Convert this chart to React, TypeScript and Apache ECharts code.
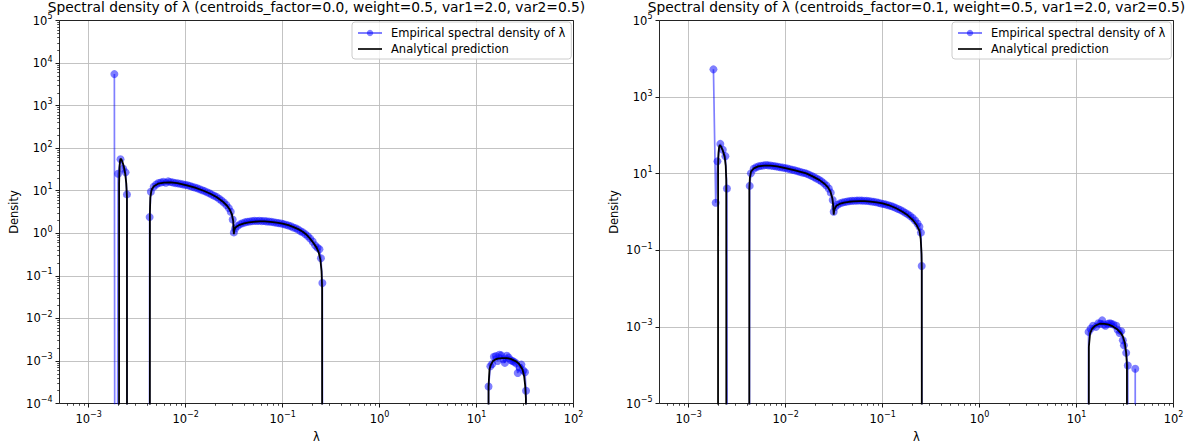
import React, { useEffect, useRef } from "react";
import * as echarts from "echarts";

type Pt = [number, number];

const FONT = "DejaVu Sans";
const EMP = "Empirical spectral density of λ";
const ANA = "Analytical prediction";
const TITLE_LEFT = "Spectral density of λ (centroids_factor=0.0, weight=0.5, var1=2.0, var2=0.5)";
const TITLE_RIGHT = "Spectral density of λ (centroids_factor=0.1, weight=0.5, var1=2.0, var2=0.5)";

const X_RANGE: Pt = [5e-4, 1e2];
const Y_RANGE_LEFT: Pt = [1e-4, 1e5];
const Y_RANGE_RIGHT: Pt = [1e-5, 1e5];
const X_MAJOR = [1e-3, 1e-2, 1e-1, 1e0, 1e1, 1e2];
const Y_MAJOR_LEFT = [1e-4, 1e-3, 1e-2, 1e-1, 1e0, 1e1, 1e2, 1e3, 1e4, 1e5];
const Y_MAJOR_RIGHT = [1e-5, 1e-3, 1e-1, 1e1, 1e3, 1e5];

// Empirical histogram density (0 = empty bin, clipped like matplotlib's log scale)
const leftEmpirical: Pt[] = [
  [1.84e-3, 5500], [1.9e-3, 0],
  [2.01e-3, 25], [2.13e-3, 55], [2.27e-3, 33], [2.4e-3, 27], [2.48e-3, 8.2], [2.55e-3, 0],
  [4.18e-3, 0], [4.25e-3, 2.4], [4.38e-3, 9.5], [4.68e-3, 12.4], [4.96e-3, 14.0], [5.25e-3, 15.2],
  [5.56e-3, 15.6], [5.89e-3, 16.2], [6.24e-3, 15.4], [6.61e-3, 16.6], [7.0e-3, 16.0], [7.41e-3, 15.6],
  [7.85e-3, 15.1], [8.32e-3, 14.9], [8.81e-3, 14.5], [9.33e-3, 14.1], [9.89e-3, 13.7], [1.047e-2, 13.4],
  [1.109e-2, 12.9], [1.175e-2, 12.3], [1.245e-2, 11.9], [1.318e-2, 11.4], [1.396e-2, 10.8], [1.479e-2, 10.3],
  [1.567e-2, 9.8], [1.66e-2, 9.2], [1.758e-2, 8.7], [1.862e-2, 8.1], [1.972e-2, 7.6], [2.089e-2, 7.1],
  [2.213e-2, 6.5], [2.344e-2, 5.9], [2.483e-2, 5.3], [2.63e-2, 4.6], [2.786e-2, 3.9], [2.917e-2, 3.2],
  [3.055e-2, 2.1], [3.141e-2, 1.05],
  [0.03236, 1.3], [0.03428, 1.48], [0.03631, 1.62], [0.03846, 1.72], [0.04074, 1.8], [0.04315, 1.86],
  [0.04571, 1.89], [0.04842, 1.93], [0.05129, 1.96], [0.05433, 1.94], [0.05754, 1.97], [0.06095, 1.93],
  [0.06457, 1.95], [0.06839, 1.9], [0.07244, 1.88], [0.07674, 1.85], [0.08128, 1.81], [0.0861, 1.77],
  [0.0912, 1.73], [0.09661, 1.69], [0.1023, 1.64], [0.1084, 1.58], [0.1148, 1.52], [0.1216, 1.46],
  [0.1288, 1.37], [0.1365, 1.31], [0.1445, 1.23], [0.1531, 1.12], [0.1622, 1.05], [0.1718, 0.95],
  [0.182, 0.85], [0.1928, 0.75], [0.2042, 0.64], [0.2163, 0.52], [0.2291, 0.46], [0.2399, 0.42],
  [0.2483, 0.26], [0.257, 0.068], [0.263, 0],
  [13.0, 0], [13.3, 2.5e-4], [13.9, 7.5e-4], [14.5, 8.5e-4], [15.1, 1.25e-3], [15.8, 1.3e-3],
  [16.5, 1.0e-3], [17.2, 1.4e-3], [18.0, 1.35e-3], [18.8, 1.1e-3], [19.6, 9.0e-4], [20.5, 1.33e-3],
  [21.4, 1.2e-3], [22.4, 1.05e-3], [23.4, 1.0e-3], [24.4, 9.5e-4], [25.5, 8.8e-4], [26.6, 5.2e-4],
  [27.8, 7.0e-4], [29.0, 8.2e-4], [30.3, 6.0e-4], [31.6, 5.4e-4], [32.4, 2.0e-4], [33.2, 0],
];

const leftAnalytical: Pt[] = [
  [2.04e-3, 0], [2.06e-3, 15], [2.08e-3, 35], [2.1e-3, 48], [2.13e-3, 57], [2.18e-3, 54],
  [2.24e-3, 46], [2.31e-3, 36], [2.38e-3, 25], [2.44e-3, 15], [2.48e-3, 7], [2.5e-3, 0],
  [4.26e-3, 0], [4.28e-3, 3], [4.32e-3, 7], [4.45e-3, 10.5], [4.7e-3, 12.8], [5.2e-3, 14.6],
  [6.0e-3, 15.5], [7.0e-3, 15.7], [8.2e-3, 15.1], [1.03e-2, 13.3], [1.25e-2, 11.8], [1.53e-2, 10.0],
  [1.8e-2, 8.5], [2.1e-2, 7.0], [2.4e-2, 5.6], [2.66e-2, 4.5], [2.85e-2, 3.6], [3.0e-2, 2.8],
  [3.1e-2, 1.9], [3.14e-2, 0.95], [3.18e-2, 1.2], [3.25e-2, 1.35], [3.37e-2, 1.45], [3.6e-2, 1.58],
  [4.0e-2, 1.7], [4.5e-2, 1.8], [5.0e-2, 1.86], [5.8e-2, 1.9], [6.5e-2, 1.9], [7.5e-2, 1.86],
  [8.7e-2, 1.78], [0.1, 1.68], [0.115, 1.55], [0.13, 1.4], [0.145, 1.25], [0.16, 1.1],
  [0.177, 0.92], [0.191, 0.76], [0.207, 0.6], [0.224, 0.46], [0.236, 0.35], [0.245, 0.24],
  [0.252, 0.13], [0.2555, 0.05], [0.257, 0],
  [13.2, 0], [13.3, 2.5e-4], [13.6, 6.3e-4], [14.0, 8.0e-4], [14.7, 9.8e-4], [15.5, 1.07e-3],
  [16.5, 1.13e-3], [18.5, 1.17e-3], [20.5, 1.16e-3], [22.5, 1.12e-3], [25.5, 9.8e-4], [27.5, 8.5e-4],
  [29.8, 6.3e-4], [31.0, 4.3e-4], [31.7, 2.7e-4], [32.3, 1.3e-4], [32.7, 0],
];

const rightEmpirical: Pt[] = [
  [1.8e-3, 5300], [1.9e-3, 1.75], [1.98e-3, 21], [2.12e-3, 60], [2.25e-3, 42], [2.39e-3, 28.7],
  [2.48e-3, 4.1], [2.55e-3, 0],
  [4.15e-3, 0], [4.26e-3, 4.8], [4.38e-3, 10.2], [4.68e-3, 13.5], [4.96e-3, 14.8], [5.25e-3, 15.5],
  [5.56e-3, 16.0], [5.89e-3, 16.4], [6.24e-3, 16.8], [6.61e-3, 16.5], [7.0e-3, 16.3], [7.41e-3, 15.9],
  [7.85e-3, 15.6], [8.32e-3, 15.2], [8.81e-3, 14.8], [9.33e-3, 14.4], [9.89e-3, 14.0], [1.047e-2, 13.6],
  [1.109e-2, 13.1], [1.175e-2, 12.6], [1.245e-2, 12.2], [1.318e-2, 11.7], [1.396e-2, 11.2], [1.479e-2, 10.8],
  [1.567e-2, 10.4], [1.66e-2, 9.9], [1.758e-2, 9.3], [1.862e-2, 8.7], [1.972e-2, 8.1], [2.089e-2, 7.5],
  [2.213e-2, 6.9], [2.344e-2, 6.3], [2.483e-2, 5.6], [2.63e-2, 4.9], [2.786e-2, 4.1], [2.917e-2, 3.2],
  [3.055e-2, 2.06], [3.13e-2, 1.02],
  [0.03236, 1.35], [0.03428, 1.55], [0.03631, 1.68], [0.03846, 1.76], [0.04074, 1.82], [0.04315, 1.88],
  [0.04571, 1.92], [0.04842, 1.95], [0.05129, 1.97], [0.05433, 1.98], [0.05754, 1.99], [0.06095, 1.98],
  [0.06457, 1.97], [0.06839, 1.95], [0.07244, 1.92], [0.07674, 1.88], [0.08128, 1.84], [0.0861, 1.79],
  [0.0912, 1.73], [0.09661, 1.67], [0.1023, 1.62], [0.1084, 1.56], [0.1148, 1.5], [0.1216, 1.43],
  [0.1288, 1.36], [0.1365, 1.28], [0.1445, 1.2], [0.1531, 1.12], [0.1622, 1.04], [0.1718, 0.95],
  [0.182, 0.87], [0.1928, 0.79], [0.2042, 0.7], [0.2163, 0.6], [0.2291, 0.5], [0.2399, 0.41],
  [0.2483, 0.29], [0.253, 0.039], [0.26, 0],
  [13.0, 0], [13.3, 7.4e-4], [14.0, 9.0e-4], [14.8, 1.07e-3], [15.9, 1.0e-3], [16.8, 1.25e-3],
  [17.5, 1.2e-3], [18.4, 1.48e-3], [19.2, 1.15e-3], [19.9, 1.07e-3], [21.0, 1.2e-3], [22.0, 1.25e-3],
  [22.8, 1.21e-3], [24.0, 1.15e-3], [25.7, 1.07e-3], [26.5, 8.5e-4], [27.8, 6.9e-4], [28.9, 7.7e-4],
  [30.0, 4.5e-4], [30.8, 3.3e-4], [32.5, 2.1e-4], [33.8, 9.8e-5], [34.5, 0], [39.5, 0],
  [40.3, 8.1e-5], [41.2, 0],
];

const rightAnalytical: Pt[] = [
  [2.0e-3, 0], [2.01e-3, 15], [2.03e-3, 35], [2.06e-3, 50], [2.09e-3, 56], [2.15e-3, 52],
  [2.25e-3, 40], [2.35e-3, 27.5], [2.41e-3, 16], [2.44e-3, 7], [2.46e-3, 0],
  [4.2e-3, 0], [4.22e-3, 4], [4.28e-3, 8], [4.4e-3, 11.5], [4.7e-3, 13.8], [5.2e-3, 15.5],
  [6.0e-3, 16.3], [7.0e-3, 16.2], [8.2e-3, 15.5], [1.02e-2, 13.7], [1.25e-2, 12.2], [1.63e-2, 10.2],
  [1.9e-2, 8.5], [2.24e-2, 6.8], [2.55e-2, 5.3], [2.73e-2, 4.4], [2.9e-2, 3.4], [3.03e-2, 2.3],
  [3.1e-2, 1.4], [3.13e-2, 0.85], [3.18e-2, 1.15], [3.33e-2, 1.45], [3.6e-2, 1.62], [4.0e-2, 1.76],
  [4.5e-2, 1.85], [5.0e-2, 1.9], [5.8e-2, 1.93], [6.5e-2, 1.92], [7.5e-2, 1.87], [8.7e-2, 1.78],
  [0.1, 1.68], [0.115, 1.52], [0.138, 1.25], [0.16, 1.02], [0.18, 0.83], [0.205, 0.62],
  [0.225, 0.45], [0.24, 0.32], [0.247, 0.2], [0.252, 0.08], [0.2535, 0.03], [0.254, 0],
  [13.3, 0], [13.4, 3e-4], [13.8, 6.9e-4], [14.5, 9e-4], [15.5, 1.07e-3], [17.3, 1.21e-3],
  [19.5, 1.2e-3], [21.5, 1.15e-3], [23.7, 1.03e-3], [26.5, 8.5e-4], [28.5, 7e-4], [30, 5.7e-4],
  [31.5, 3.8e-4], [32.5, 2.1e-4], [33.1, 1e-4], [33.3, 0],
];

const CLIP_LOG = -30;
const lg = (v: number) => (v > 0 ? Math.log10(v) : CLIP_LOG);
const toLog = (pts: Pt[]) => pts.map(([x, y]) => [lg(x), lg(y)]);

function minorTicks(lo: number, hi: number): number[] {
  const out: number[] = [];
  for (let n = Math.floor(Math.log10(lo)); n < Math.ceil(Math.log10(hi)); n++) {
    for (let k = 2; k <= 9; k++) {
      const v = k * Math.pow(10, n);
      if (v > lo * 1.0001 && v < hi * 0.9999) out.push(Math.log10(v));
    }
  }
  return out;
}

const supLabel = (v: number) => {
  const n = Math.round(v);
  const e = n < 0 ? "\u2212" + Math.abs(n) : String(n);
  return `{b|10}{s|${e}}`;
};

const RICH = {
  b: { fontSize: 11.5, fontFamily: FONT, color: "#000" },
  s: { fontSize: 8, fontFamily: FONT, color: "#000", padding: [0, 0, 8, 0] },
};

const TICK_COLOR = "#000";
const GRID_COLOR = "#bcbcbc";

function mainX(gridIndex: number) {
  const vals = X_MAJOR.map(lg);
  return {
    type: "value", gridIndex, position: "bottom",
    min: lg(X_RANGE[0]), max: lg(X_RANGE[1]),
    axisLine: { show: false, onZero: false },
    axisTick: { show: true, customValues: vals, length: 4, lineStyle: { color: TICK_COLOR, width: 0.9 } },
    axisLabel: { show: true, customValues: vals, formatter: supLabel, rich: RICH, margin: 7, color: "#000" },
    splitLine: { show: true, lineStyle: { color: GRID_COLOR, width: 0.9 } },
    name: "λ", nameLocation: "middle", nameGap: 27,
    nameTextStyle: { fontFamily: FONT, fontSize: 11.5, color: "#000" },
  };
}
function minorX(gridIndex: number) {
  return {
    type: "value", gridIndex, position: "bottom",
    min: lg(X_RANGE[0]), max: lg(X_RANGE[1]),
    axisLine: { show: false, onZero: false },
    axisTick: { show: true, customValues: minorTicks(X_RANGE[0], X_RANGE[1]), length: 2.3, lineStyle: { color: TICK_COLOR, width: 0.7 } },
    axisLabel: { show: false },
    splitLine: { show: false },
  };
}
function mainY(gridIndex: number, range: Pt, majors: number[]) {
  const vals = majors.map(lg);
  return {
    type: "value", gridIndex, position: "left",
    min: lg(range[0]), max: lg(range[1]),
    axisLine: { show: false, onZero: false },
    axisTick: { show: true, customValues: vals, length: 4, lineStyle: { color: TICK_COLOR, width: 0.9 } },
    axisLabel: { show: true, customValues: vals, formatter: supLabel, rich: RICH, margin: 7, color: "#000" },
    splitLine: { show: true, lineStyle: { color: GRID_COLOR, width: 0.9 } },
    name: "Density", nameLocation: "middle", nameGap: 40,
    nameTextStyle: { fontFamily: FONT, fontSize: 11.5, color: "#000" },
  };
}
function minorY(gridIndex: number, range: Pt) {
  return {
    type: "value", gridIndex, position: "left",
    min: lg(range[0]), max: lg(range[1]),
    axisLine: { show: false, onZero: false },
    axisTick: { show: true, customValues: minorTicks(range[0], range[1]), length: 2.3, lineStyle: { color: TICK_COLOR, width: 0.7 } },
    axisLabel: { show: false },
    splitLine: { show: false },
  };
}

function empSeries(name: string, xi: number, yi: number, pts: Pt[]) {
  return {
    type: "line", name, xAxisIndex: xi, yAxisIndex: yi, data: toLog(pts),
    symbol: "circle", symbolSize: 8, showSymbol: true, clip: true,
    lineStyle: { color: "rgba(0,0,255,0.5)", width: 1.7 },
    itemStyle: { color: "rgba(0,0,255,0.5)", borderWidth: 0 },
    emphasis: { disabled: true }, silent: true, z: 2,
  };
}
function anaSeries(name: string, xi: number, yi: number, pts: Pt[]) {
  return {
    type: "line", name, xAxisIndex: xi, yAxisIndex: yi, data: toLog(pts),
    symbol: "none", showSymbol: false, clip: true,
    lineStyle: { color: "#000", width: 1.8 },
    itemStyle: { color: "#000" },
    emphasis: { disabled: true }, silent: true, z: 3,
  };
}

function legendAt(left: number) {
  return {
    left, top: 22, orient: "vertical", selectedMode: false,
    data: [{ name: EMP }, { name: ANA, icon: "path://M0,0H26V1.8H0Z" }],
    itemWidth: 24, itemHeight: 8, itemGap: 4,
    padding: [5, 6, 4, 5],
    backgroundColor: "rgba(255,255,255,0.8)", borderColor: "#cccccc", borderWidth: 1, borderRadius: 3,
    textStyle: { fontFamily: FONT, fontSize: 11.5, color: "#000", padding: [0, 0, 0, 4] },
    z: 10,
  };
}

export default function App() {
  const ref = useRef<HTMLDivElement>(null);
  useEffect(() => {
    if (!ref.current) return;
    const chart = echarts.init(ref.current, undefined, { renderer: "svg" });
    const option: any = {
      animation: false,
      backgroundColor: "#fff",
      textStyle: { fontFamily: FONT },
      grid: [
        { left: 59.5, top: 20.5, width: 514, height: 383, show: true, borderColor: "#111", borderWidth: 0.9, backgroundColor: "transparent", z: 1, outerBoundsMode: "none" },
        { left: 659.5, top: 20.5, width: 514, height: 383, show: true, borderColor: "#111", borderWidth: 0.9, backgroundColor: "transparent", z: 1, outerBoundsMode: "none" },
      ],
      xAxis: [mainX(0), minorX(0), mainX(1), minorX(1)],
      yAxis: [mainY(0, Y_RANGE_LEFT, Y_MAJOR_LEFT), minorY(0, Y_RANGE_LEFT), mainY(1, Y_RANGE_RIGHT, Y_MAJOR_RIGHT)],
      legend: [legendAt(352), legendAt(952)],
      graphic: [
        { type: "text", x: 316.5, y: 0, silent: true, style: { text: TITLE_LEFT, fontSize: 13.8, fontFamily: FONT, fill: "#000", align: "center", verticalAlign: "top" } },
        { type: "text", x: 916.5, y: 0, silent: true, style: { text: TITLE_RIGHT, fontSize: 13.8, fontFamily: FONT, fill: "#000", align: "center", verticalAlign: "top" } },
      ],
      series: [
        empSeries(EMP, 0, 0, leftEmpirical),
        anaSeries(ANA, 0, 0, leftAnalytical),
        empSeries(EMP, 2, 2, rightEmpirical),
        anaSeries(ANA, 2, 2, rightAnalytical),
      ],
    };
    chart.setOption(option);
    return () => chart.dispose();
  }, []);
  return <div ref={ref} style={{ position: "absolute", left: 0, top: 0, width: 1193, height: 446 }} />;
}
